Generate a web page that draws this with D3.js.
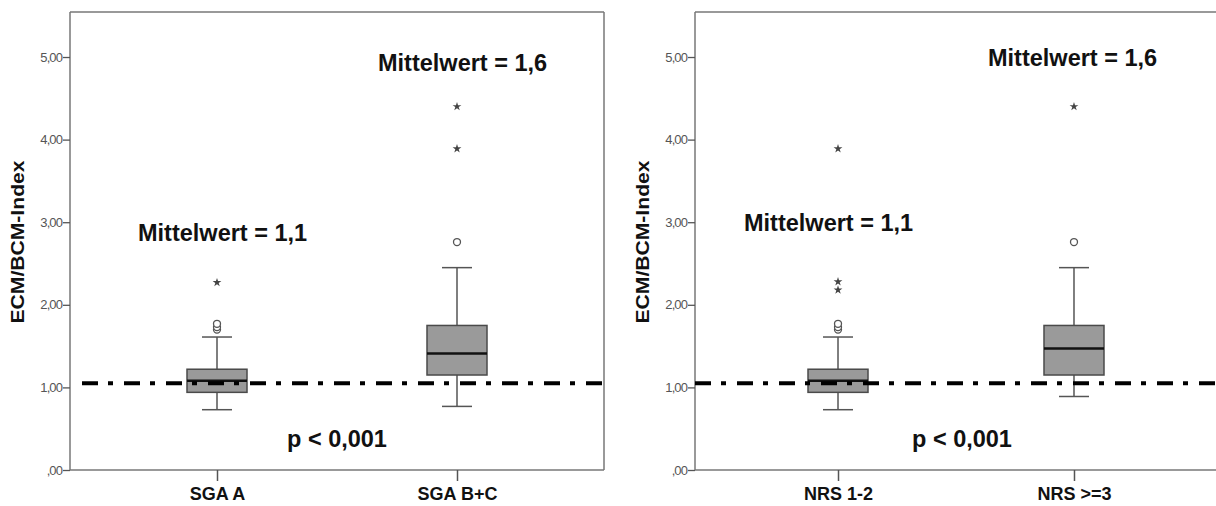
<!DOCTYPE html>
<html><head><meta charset="utf-8">
<script src="https://cdn.jsdelivr.net/npm/d3@7"></script>
<style>
html,body{margin:0;padding:0;background:#fff;}
svg{display:block;font-family:"Liberation Sans",Arial,sans-serif;}
</style></head>
<body>
<svg id="chart" width="1216" height="506"></svg>
<script>
// ---- data ----
const leftCategories = ["SGA A", "SGA B+C"];
const rightCategories = ["NRS 1-2", "NRS >=3"];
// [whiskerLow, q1, median, q3, whiskerHigh]
const leftBoxes = [[0.73, 0.94, 1.08, 1.22, 1.61], [0.77, 1.15, 1.41, 1.75, 2.45]];
const rightBoxes = [[0.73, 0.94, 1.08, 1.22, 1.61], [0.89, 1.15, 1.47, 1.75, 2.45]];
const leftOutliers = [[1.70, 1.73, 1.77], [2.76]];
const rightOutliers = [[1.70, 1.73, 1.77], [2.76]];
const leftExtremes = [[2.27], [3.89, 4.40]];
const rightExtremes = [[2.18, 2.28, 3.89], [4.40]];
const referenceValue = 1.05;
const yTickValues = [0, 1, 2, 3, 4, 5];
const yTickLabels = [",00", "1,00", "2,00", "3,00", "4,00", "5,00"];
const yTitle = "ECM/BCM-Index";
const leftAnnotations = [
  {text: "Mittelwert = 1,1", x: 138, y: 241},
  {text: "Mittelwert = 1,6", x: 378, y: 71},
  {text: "p < 0,001", x: 287, y: 447}
];
const rightAnnotations = [
  {text: "Mittelwert = 1,1", x: 744, y: 231},
  {text: "Mittelwert = 1,6", x: 988, y: 66},
  {text: "p < 0,001", x: 912, y: 447}
];

const svg = d3.select("#chart");
const y = d3.scaleLinear().domain([0, 5.545]).range([470, 12]);

function panel(cfg) {
  const g = svg.append("g");
  const x = d3.scalePoint().domain(cfg.cats).range([cfg.x0, cfg.x1]).padding(cfg.pad);
  const frameColor = "#777";
  // frame
  g.append("line").attr("x1", cfg.x0).attr("x2", cfg.x1).attr("y1", y.range()[1]).attr("y2", y.range()[1])
    .attr("stroke", frameColor).attr("stroke-width", 1.5);
  g.append("line").attr("x1", cfg.x1).attr("x2", cfg.x1).attr("y1", y.range()[1]).attr("y2", y(0))
    .attr("stroke", frameColor).attr("stroke-width", 1.5);
  // y axis
  const ya = d3.axisLeft(y).tickValues(yTickValues).tickSize(7).tickSizeOuter(0)
    .tickFormat((d, i) => yTickLabels[i]);
  const yg = g.append("g").attr("transform", `translate(${cfg.x0},0)`).call(ya);
  yg.select(".domain").attr("stroke", frameColor).attr("stroke-width", 1.5)
    .attr("d", `M0,${y(0)}V${y.range()[1]}`);
  yg.selectAll(".tick line").attr("stroke", "#555").attr("stroke-width", 1.3);
  yg.selectAll(".tick text").attr("fill", "#555").attr("font-size", 13).attr("x", -8)
    .attr("letter-spacing", -0.9);
  // x axis
  const xa = d3.axisBottom(x).tickSize(11).tickSizeOuter(0);
  const xg = g.append("g").attr("transform", `translate(0,${y(0)})`).call(xa);
  xg.select(".domain").attr("stroke", frameColor).attr("stroke-width", 1.5)
    .attr("d", `M${cfg.x0},0H${cfg.x1}`);
  xg.selectAll(".tick line").attr("stroke", "#555").attr("stroke-width", 1.5);
  xg.selectAll(".tick text").attr("fill", "#111").attr("font-size", 18).attr("font-weight", "bold")
    .attr("y", 17).attr("dy", "0.71em");
  // y title
  g.append("text").attr("transform", `translate(${cfg.titleX},242) rotate(-90)`)
    .attr("text-anchor", "middle").attr("dy", "0.35em").attr("font-size", 18).attr("font-weight", "bold")
    .attr("fill", "#111").attr("textLength", 163).attr("lengthAdjust", "spacingAndGlyphs").text(yTitle);

  const bw = 60, cw = 30;
  cfg.cats.forEach((c, i) => {
    const cx = x(c);
    const [lo, q1, med, q3, hi] = cfg.boxes[i];
    const bg = g.append("g");
    bg.append("line").attr("x1", cx).attr("x2", cx).attr("y1", y(hi)).attr("y2", y(q3)).attr("stroke", "#555").attr("stroke-width", 1.5);
    bg.append("line").attr("x1", cx).attr("x2", cx).attr("y1", y(q1)).attr("y2", y(lo)).attr("stroke", "#555").attr("stroke-width", 1.5);
    bg.append("line").attr("x1", cx - cw / 2).attr("x2", cx + cw / 2).attr("y1", y(hi)).attr("y2", y(hi)).attr("stroke", "#555").attr("stroke-width", 1.5);
    bg.append("line").attr("x1", cx - cw / 2).attr("x2", cx + cw / 2).attr("y1", y(lo)).attr("y2", y(lo)).attr("stroke", "#555").attr("stroke-width", 1.5);
    bg.append("rect").attr("x", cx - bw / 2).attr("width", bw).attr("y", y(q3)).attr("height", y(q1) - y(q3))
      .attr("fill", "#9a9a9a").attr("stroke", "#4a4a4a").attr("stroke-width", 1.5);
    bg.append("line").attr("x1", cx - bw / 2).attr("x2", cx + bw / 2).attr("y1", y(med)).attr("y2", y(med))
      .attr("stroke", "#111").attr("stroke-width", 2.5);
    cfg.outliers[i].forEach(v => {
      bg.append("circle").attr("cx", cx).attr("cy", y(v)).attr("r", 3.5)
        .attr("fill", "#fff").attr("stroke", "#555").attr("stroke-width", 1.3);
    });
    cfg.extremes[i].forEach(v => {
      bg.append("path").attr("d", d3.symbol(d3.symbolStar, 24)()).attr("transform", `translate(${cx},${y(v)})`)
        .attr("fill", "#444");
    });
  });
  // reference line
  g.append("line").attr("x1", cfg.refStart).attr("x2", cfg.x1).attr("y1", y(referenceValue)).attr("y2", y(referenceValue))
    .attr("stroke", "#000").attr("stroke-width", 4).attr("stroke-dasharray", "16 10 5 11")
    .attr("stroke-dashoffset", cfg.refOffset);
  // annotations
  cfg.ann.forEach(a => {
    g.append("text").attr("x", a.x).attr("y", a.y).attr("font-size", 23.5).attr("font-weight", "bold")
      .attr("fill", "#111").text(a.text);
  });
}

panel({cats: leftCategories, boxes: leftBoxes, outliers: leftOutliers, extremes: leftExtremes,
  x0: 70, x1: 604, pad: 0.6125, titleX: 18, refStart: 71, refOffset: 31, ann: leftAnnotations});
panel({cats: rightCategories, boxes: rightBoxes, outliers: rightOutliers, extremes: rightExtremes,
  x0: 695, x1: 1217, pad: 0.606, titleX: 643, refStart: 695, refOffset: 0, ann: rightAnnotations});
</script>
</body></html>
